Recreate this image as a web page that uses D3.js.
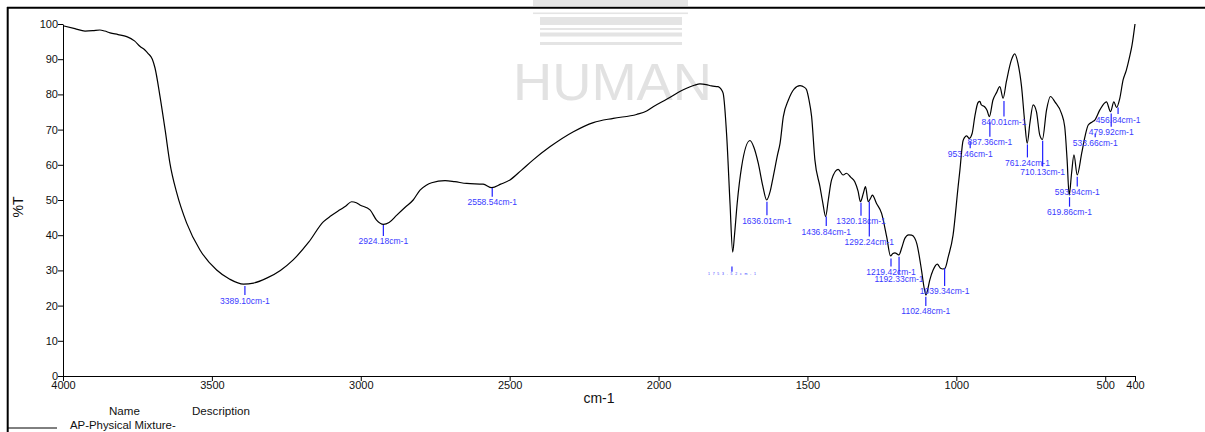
<!DOCTYPE html>
<html><head><meta charset="utf-8">
<script src="https://cdn.jsdelivr.net/npm/d3@7"></script>
<style>
body{margin:0;background:#fff}
svg{display:block}
text{font-family:Arial,"Liberation Sans",Helvetica,sans-serif}
</style>
</head><body>
<svg id="c" width="1205" height="432"></svg>
<script>
// ---- data ----
const wavenumbers = [4000,3960,3926,3900,3876,3860,3842,3815,3786,3760,3741,3725,3714,3700,3691,3674,3657,3641,3618,3585,3540,3484,3440,3394,3360,3316,3270,3227,3175,3126,3100,3070,3050,3031,3015,3003,2969,2947,2924,2905,2879,2850,2824,2801,2780,2762,2717,2684,2644,2589,2560,2530,2499,2460,2421,2365,2286,2219,2152,2074,2040,2018,1973,1917,1880,1861,1840,1822,1800,1790,1783,1771,1760,1751,1745,1736,1721,1693,1680,1665,1650,1637,1625,1615,1600,1592,1581,1564,1545,1525,1510,1503,1495,1486,1475,1458,1448,1439,1430,1419,1397,1380,1369,1355,1341,1330,1322,1312,1305,1296,1288,1282,1268,1251,1234,1221,1213,1206,1198,1193,1183,1173,1160,1150,1140,1133,1117,1108,1102,1095,1089,1078,1064,1053,1045,1038,1027,1011,994,988,977,965,957,947,938,927,921,916,905,897,889,877,865,854,843,832,815,804,793,781,770,762,753,742,731,720,711,697,684,669,647,636,628,621,613,605,594,579,568,557,543,535,518,496,482,471,462,451,440,429,418,410,400];
const transmittance = [99.5,98.7,98.0,98.1,98.3,98.0,97.5,97.0,96.4,95.2,93.6,92.6,91.6,90.0,87.5,79.3,69.9,60.5,52.0,43.5,35.8,30.1,27.5,26.1,26.4,27.8,30.0,33.0,38.0,43.8,45.5,47.2,48.3,49.5,49.2,48.6,47.2,44.3,43.1,43.6,45.7,48.0,50.0,52.8,54.2,54.9,55.5,55.2,54.7,54.5,53.5,54.5,55.7,58.5,61.4,65.1,69.4,72.0,73.2,74.3,75.3,76.5,78.6,81.3,82.6,83.0,82.8,82.4,82.2,81.5,80.3,68,49,35.2,40,49,59.5,66.9,65,60.4,54,50.0,52.5,56.6,63,66.1,73.7,78.4,81.5,82.5,82.0,81.3,78.5,73.7,61.4,53.8,49,45.3,50,55.7,58.7,57.1,57.6,56.5,55.2,52.5,49.5,52,53.8,49.5,50.5,51.4,49.0,46.2,39.6,34.1,34.8,35.0,34.6,34.4,36.5,39.1,40.1,40.0,39.2,37.7,30.1,25,23.0,25,27.3,30.1,31.8,30.6,30.4,30.6,33.9,40,53.8,58.5,67,68.2,67.5,68.9,73.7,77.7,78,77.0,76.5,75.5,73.7,78.4,80.5,82.2,78.9,83.6,89.8,91.5,88.8,82.2,71.8,66.1,71.8,77.0,75.1,68.5,67.2,75.6,79.4,77.9,74.6,70.8,61.4,51.4,57.6,62.8,57.1,63.3,68,71.3,72.2,72.7,75.6,77.9,75.1,77.9,76.3,78.9,84.1,86.9,90.7,94,100];

const peakWavenumbers = [3389.10,2924.18,2558.54,1753.52,1636.01,1436.84,1320.18,1292.24,1219.42,1192.33,1102.48,1039.34,953.46,887.36,840.01,761.24,710.13,619.86,593.94,533.66,479.92,456.84];
const peakLabels = ["3389.10cm-1","2924.18cm-1","2558.54cm-1","1753.52cm-1","1636.01cm-1","1436.84cm-1","1320.18cm-1","1292.24cm-1","1219.42cm-1","1192.33cm-1","1102.48cm-1","1039.34cm-1","953.46cm-1","887.36cm-1","840.01cm-1","761.24cm-1","710.13cm-1","619.86cm-1","593.94cm-1","533.66cm-1","479.92cm-1","456.84cm-1"];
const peakMarkTop = [25.6,42.9,53.4,31.1,49.5,45.3,49.2,49.5,33.4,33.9,22.5,30.6,66.6,72.2,78.1,65.8,66.8,50.8,56.6,68.9,74.6,76.3];
const peakMarkBottom = [23.0,39.8,50.9,29.6,45.7,42.6,45.5,39.6,31.1,29.0,19.9,25.6,64.7,68.0,73.7,62.1,59.5,48.1,53.8,67.8,70.8,74.4];

const xTicks = [4000,3500,3000,2500,2000,1500,1000,500,400];
const yTicks = [0,10,20,30,40,50,60,70,80,90,100];
const xTitle = "cm-1", yTitle = "%T";
const legendHeaders = ["Name","Description"];
const seriesName = "AP-Physical Mixture-";
const watermark = "HUMAN";

// ---- drawing ----
const svg = d3.select("#c");
const x = d3.scaleLinear().domain([4000,400]).range([63,1135]);
const y = d3.scaleLinear().domain([0,100]).range([376,24]);

// watermark
const wm = svg.append("g").attr("fill","#e4e4e4");
[[533,0,155,6],[533,12.5,155,1.6],[540,17,142,8],[540,28,142,2],[540,32.5,142,4],[540,42,142,3]].forEach(r=>
  wm.append("rect").attr("x",r[0]).attr("y",r[1]).attr("width",r[2]).attr("height",r[3]));
wm.append("text").attr("x",513).attr("y",100).attr("font-size",51).attr("textLength",199)
  .attr("lengthAdjust","spacingAndGlyphs").attr("fill","#e2e2e2").text(watermark);

// frame
svg.append("line").attr("x1",7).attr("x2",1205).attr("y1",7.7).attr("y2",7.7).attr("stroke","#000").attr("stroke-width",2);
svg.append("line").attr("x1",7.7).attr("x2",7.7).attr("y1",7).attr("y2",432).attr("stroke","#000").attr("stroke-width",2);

// axes
const xa = svg.append("g").attr("transform","translate(0,376)")
  .call(d3.axisBottom(x).tickValues(xTicks).tickFormat(d3.format("d")).tickSize(5).tickSizeOuter(0).tickPadding(0));
const ya = svg.append("g").attr("transform","translate(63,0)")
  .call(d3.axisLeft(y).tickValues(yTicks).tickFormat(d3.format("d")).tickSize(5).tickSizeOuter(0).tickPadding(0));
[xa,ya].forEach(g=>{
  g.attr("font-family","Arial, 'Liberation Sans', sans-serif").attr("font-size",11);
  g.selectAll("path,line").attr("stroke","#000");
  g.selectAll("text").attr("fill","#111");
});

svg.append("text").attr("x",599).attr("y",403).attr("text-anchor","middle").attr("font-size",14).attr("fill","#111").text(xTitle);
svg.append("text").attr("transform","translate(23,207) rotate(-90)").attr("text-anchor","middle").attr("font-size",14).attr("fill","#111").text(yTitle);

// spectrum
const pts = wavenumbers.map((w,i)=>({w, t: transmittance[i]}));
svg.append("path").datum(pts)
  .attr("d", d3.line().x(d=>x(d.w)).y(d=>y(d.t)).curve(d3.curveMonotoneX))
  .attr("fill","none").attr("stroke","#000").attr("stroke-width",1.2);

// peak annotations
const ann = svg.append("g");
peakWavenumbers.forEach((w,i)=>{
  const px = x(w);
  ann.append("line").attr("x1",px).attr("x2",px).attr("y1",y(peakMarkTop[i])).attr("y2",y(peakMarkBottom[i]))
    .attr("stroke","#2020ff").attr("stroke-width",1.2);
  const t = ann.append("text").attr("x",px).attr("y",y(peakMarkBottom[i])+8.5)
    .attr("text-anchor","middle").attr("fill","#3a3aff").text(peakLabels[i]);
  if (i===3) { t.attr("font-size",3.5).attr("y",y(peakMarkBottom[i])+3).attr("textLength",48).attr("lengthAdjust","spacing").attr("x",px-24).attr("text-anchor","start"); }
  else t.attr("font-size",8.5);
});

// legend
svg.append("text").attr("x",109).attr("y",415).attr("font-size",11.6).attr("fill","#111").text(legendHeaders[0]);
svg.append("text").attr("x",192).attr("y",415).attr("font-size",11.6).attr("fill","#111").text(legendHeaders[1]);
svg.append("line").attr("x1",8).attr("x2",57).attr("y1",428).attr("y2",428).attr("stroke","#000").attr("stroke-width",1);
svg.append("text").attr("x",70).attr("y",429).attr("font-size",11.4).attr("fill","#111").text(seriesName);
</script>
</body></html>
